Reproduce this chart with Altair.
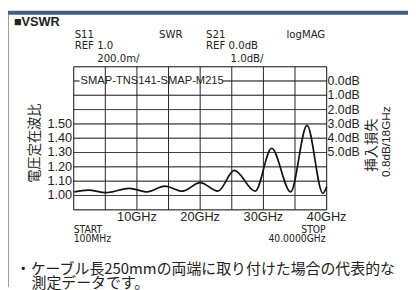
import altair as alt
import pandas as pd

# ---- data ----
freq_ghz = [0.1, 2.3, 5.1, 8.8, 11.6, 14.4, 17.2, 20.0, 22.8, 25.4, 28.7, 31.3, 34.3, 36.9, 39.4, 40.0]
vswr = [1.025, 1.037, 1.02, 1.05, 1.025, 1.065, 1.03, 1.09, 1.03, 1.175, 1.03, 1.33, 1.025, 1.49, 1.015, 1.06]

vswr_grid = [0.9, 1.0, 1.1, 1.2, 1.3, 1.4, 1.5, 1.6, 1.7, 1.8, 1.9]
freq_grid = [0, 5, 10, 15, 20, 25, 30, 35, 40]
vswr_labels = [1.0, 1.1, 1.2, 1.3, 1.4, 1.5]
vswr_text = ["1.00", "1.10", "1.20", "1.30", "1.40", "1.50"]
freq_labels = [10, 20, 30, 40]
freq_text = ["10GHz", "20GHz", "30GHz", "40GHz"]
db_text = ["0.0dB", "1.0dB", "2.0dB", "3.0dB", "4.0dB", "5.0dB"]
db_level = [1.8, 1.7, 1.6, 1.5, 1.4, 1.3]

W, H = 258, 146
XDOM = [0, 40]
YDOM = [0.9, 1.9]

SANS = "Liberation Sans, Arial, Helvetica, sans-serif"
NARROW = "Liberation Sans Narrow, Arial Narrow, DejaVu Sans Condensed, sans-serif"
CJK = "Noto Sans CJK JP, sans-serif"
TXT = "#222222"

xs = alt.Scale(domain=XDOM, nice=False, zero=False)
ys = alt.Scale(domain=YDOM, nice=False, zero=False)

curve_df = pd.DataFrame({"f": freq_ghz, "v": vswr})
hgrid_df = pd.DataFrame({"g": vswr_grid})
vgrid_df = pd.DataFrame({"fg": freq_grid})
db_df = pd.DataFrame({"dl": db_level, "t": db_text})
yl_df = pd.DataFrame({"yl": vswr_labels, "t": vswr_text})
xl_df = pd.DataFrame({"xl": freq_labels, "t": freq_text})
one = pd.DataFrame({"k": [0]})

# horizontal grid: thin filled bars (1 px) at each VSWR level
hbars = alt.Chart(hgrid_df).mark_rect(color="#444444").encode(
    y=alt.Y("g:Q", scale=ys, axis=None),
    y2=alt.value(0),
    x=alt.value(0), x2=alt.value(W),
).transform_filter("true")

hbar = alt.Chart(hgrid_df).mark_tick(
    color="#444444", thickness=1, orient="horizontal", size=W
).encode(
    y=alt.Y("g:Q", scale=ys, axis=None),
    x=alt.value(W / 2),
)

hgrid = alt.Chart(hgrid_df).mark_rule(color="#444444", strokeWidth=1).encode(
    y=alt.Y("g:Q", scale=ys, axis=None),
    x=alt.value(0), x2=alt.value(W),
)

# white box behind the trace label (decoration only)
mask = alt.Chart(one).mark_rect(color="white").encode(
    x=alt.value(6), x2=alt.value(152), y=alt.value(9.5), y2=alt.value(19.5)
)

vgrid = alt.Chart(vgrid_df).mark_rule(color="#222222", strokeWidth=1).encode(
    x=alt.X("fg:Q", scale=xs, axis=None),
    y=alt.value(0), y2=alt.value(H),
)

curve = alt.Chart(curve_df).mark_line(
    interpolate="monotone", color="#111111", strokeWidth=1.7
).encode(
    x=alt.X("f:Q", scale=xs, axis=None),
    y=alt.Y("v:Q", scale=ys, axis=None),
)

left_labels = alt.Chart(yl_df).mark_text(
    align="right", baseline="middle", font=SANS, fontSize=13, color=TXT
).encode(
    x=alt.value(-1.5),
    y=alt.Y("yl:Q", scale=ys, axis=None),
    text="t:N",
)

bottom_labels = alt.Chart(xl_df).mark_text(
    align="center", baseline="middle", font=SANS, fontSize=13, color=TXT
).encode(
    x=alt.X("xl:Q", scale=xs, axis=None),
    y=alt.value(H + 7.5),
    text="t:N",
)

right_labels = alt.Chart(db_df).mark_text(
    align="left", baseline="middle", font=SANS, fontSize=12.5, color=TXT
).encode(
    x=alt.value(W + 1),
    y=alt.Y("dl:Q", scale=ys, axis=None),
    text="t:N",
)


def txt(s, x, y, font=NARROW, size=11.5, align="left", weight="normal", angle=0):
    kw = dict(text=s, align=align, baseline="middle", font=font, fontSize=size,
              color=TXT, fontWeight=weight)
    if angle:
        kw["angle"] = angle
    return alt.Chart(one).mark_text(**kw).encode(
        x=alt.value(x), y=alt.value(y)
    )


band = alt.Chart(one).mark_rect(color="#3e5f86").encode(
    x=alt.value(-67), x2=alt.value(341), y=alt.value(-57), y2=alt.value(-53)
)
border = alt.Chart(one).mark_rule(color="#9a9a9a", strokeWidth=1).encode(
    x=alt.value(-66.5), y=alt.value(-53), y2=alt.value(225)
)

texts = [
    txt("SMAP-TNS141-SMAP-M215", 7, 14.6, font=SANS, size=11.4),
    txt("■VSWR", -61, -45.5, font=SANS + ", " + CJK, size=13, weight="bold"),
    txt("S11", 1, -32.5),
    txt("REF 1.0", 1, -21.5),
    txt("200.0m/", 24, -8),
    txt("SWR", 87, -32.5),
    txt("S21", 135, -32.5),
    txt("REF 0.0dB", 135, -21.5),
    txt("1.0dB/", 160, -8),
    txt("logMAG", 217, -32.5),
    txt("START", 0, 166.5, size=10.5),
    txt("100MHz", 0, 176, size=10.5),
    txt("STOP", 257, 166.5, size=10.5, align="right"),
    txt("40.0000GHz", 257, 176, size=10.5, align="right"),
    txt("・ケーブル長250mmの両端に取り付けた場合の代表的な", -59, 207, font=CJK, size=15.2),
    txt("測定データです。", -43, 220.5, font=CJK, size=15.2),
    txt("電圧定在波比", -39, 78, font=CJK, size=13.5, align="center", angle=270),
    txt("挿入損失", 304, 80, font=CJK, size=13.5, align="center", angle=270),
    txt("0.8dB/18GHz", 319, 76.5, font=SANS, size=12, align="center", angle=270),
]

chart = alt.layer(
    band, border, hbar, hgrid, mask, vgrid, curve, left_labels, bottom_labels, right_labels, *texts
).properties(
    width=W, height=H,
    autosize=alt.AutoSizeParams(type="none"),
    padding={"left": 67, "top": 57, "right": 83, "bottom": 79},
).configure_view(stroke="#222222", strokeWidth=1).configure(background="white")

chart.save("out.html", embed_options={"renderer": "svg", "actions": False})
